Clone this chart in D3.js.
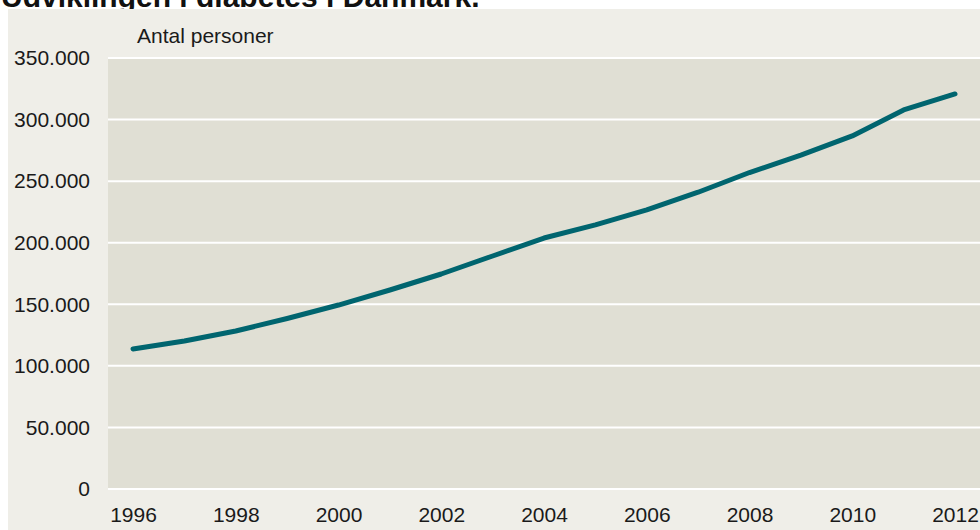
<!DOCTYPE html>
<html>
<head>
<meta charset="utf-8">
<script src="https://cdn.jsdelivr.net/npm/d3@7"></script>
<style>
  html, body { margin: 0; padding: 0; background: #ffffff; }
  svg { display: block; font-family: "Liberation Sans", Arial, sans-serif; }
</style>
</head>
<body>
<svg id="chart" width="980" height="530"></svg>
<script>
// Number of people registered with diabetes in Denmark, per year
const years = [1996, 1997, 1998, 1999, 2000, 2001, 2002, 2003, 2004, 2005, 2006, 2007, 2008, 2009, 2010, 2011, 2012];
const persons = [113700, 120200, 128300, 138500, 149400, 161600, 174600, 189200, 203800, 214500, 226600, 241000, 257000, 271200, 286700, 307800, 320800];
const yTicks = [0, 50000, 100000, 150000, 200000, 250000, 300000, 350000];
const xTicks = [1996, 1998, 2000, 2002, 2004, 2006, 2008, 2010, 2012];
const title = "Udviklingen i diabetes i Danmark.";
const yTitle = "Antal personer";

const W = 980, H = 530;
const panel = { x: 8, y: 9 };
const plot = { left: 108, right: 980, top: 58, bottom: 489 };

const da = d3.formatLocale({ decimal: ",", thousands: ".", grouping: [3], currency: ["", " kr."] });
const fmt = da.format(",");

const svg = d3.select("#chart");

// title, drawn first so the panel's top edge overlaps it
svg.append("text")
  .attr("x", 1).attr("y", 7)
  .attr("font-size", 30).attr("font-weight", "bold")
  .attr("fill", "#111")
  .text(title);

// light background panel
svg.append("rect")
  .attr("x", panel.x).attr("y", panel.y)
  .attr("width", W - panel.x).attr("height", H - panel.y)
  .attr("fill", "#efeee8");

const x = d3.scaleLinear().domain([1996, 2012]).range([133, 955]);
const y = d3.scaleLinear().domain([0, 350000]).range([plot.bottom, plot.top]);

// plot background
svg.append("rect")
  .attr("x", plot.left).attr("y", plot.top)
  .attr("width", plot.right - plot.left).attr("height", plot.bottom - plot.top)
  .attr("fill", "#e0dfd4");

// horizontal gridlines
svg.append("g")
  .selectAll("line")
  .data(yTicks)
  .join("line")
  .attr("x1", plot.left).attr("x2", plot.right)
  .attr("y1", d => y(d)).attr("y2", d => y(d))
  .attr("stroke", "#ffffff").attr("stroke-width", 2);

// y axis labels
const yAxis = svg.append("g")
  .attr("transform", `translate(${plot.left},0)`)
  .call(d3.axisLeft(y).tickValues(yTicks).tickFormat(fmt).tickSize(0).tickPadding(18));
yAxis.select(".domain").remove();
yAxis.selectAll("text")
  .attr("font-size", 21).attr("fill", "#1a1a1a")
  .attr("font-family", "Liberation Sans, Arial, sans-serif");

// x axis labels
const xAxis = svg.append("g")
  .attr("transform", `translate(0,${plot.bottom})`)
  .call(d3.axisBottom(x).tickValues(xTicks).tickFormat(d3.format("d")).tickSize(0).tickPadding(18));
xAxis.select(".domain").remove();
xAxis.selectAll("text")
  .attr("font-size", 21).attr("fill", "#1a1a1a")
  .attr("font-family", "Liberation Sans, Arial, sans-serif");

// axis title
svg.append("text")
  .attr("x", 137).attr("y", 42.5)
  .attr("font-size", 21).attr("fill", "#1a1a1a")
  .text(yTitle);

// data line
const line = d3.line()
  .x((d, i) => x(years[i]))
  .y(d => y(d));

svg.append("path")
  .datum(persons)
  .attr("d", line)
  .attr("fill", "none")
  .attr("stroke", "#00656f")
  .attr("stroke-width", 5)
  .attr("stroke-linejoin", "round")
  .attr("stroke-linecap", "round");
</script>
</body>
</html>
